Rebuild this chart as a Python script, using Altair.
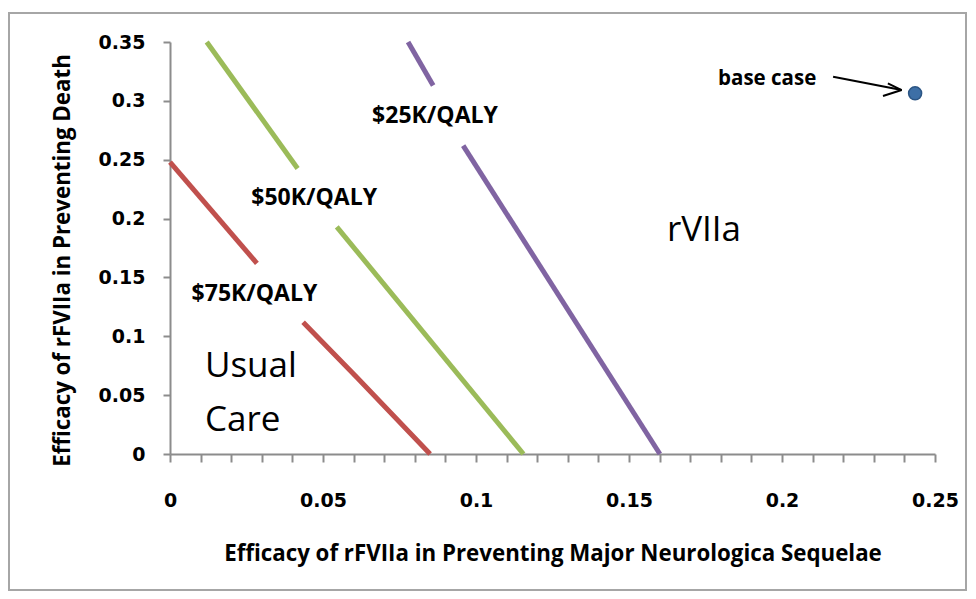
import altair as alt
import pandas as pd

# ---- threshold lines (two visible segments each; gap where the label sits) ----
red_seg1_x = [0.0, 0.0284]
red_seg1_y = [0.248, 0.162]
red_seg2_x = [0.0435, 0.0611, 0.085]
red_seg2_y = [0.112, 0.065, 0.0]
green_seg1_x = [0.012, 0.0417]
green_seg1_y = [0.35, 0.2425]
green_seg2_x = [0.0545, 0.1155]
green_seg2_y = [0.193, 0.0]
purple_seg1_x = [0.0778, 0.0860]
purple_seg1_y = [0.35, 0.313]
purple_seg2_x = [0.0958, 0.1601]
purple_seg2_y = [0.262, 0.0]

series_names = ["$75K/QALY", "$50K/QALY", "$25K/QALY"]
series_colors = ["#C0504D", "#9BBB59", "#8064A2"]

# line labels
label_text = ["$75K/QALY", "$50K/QALY", "$25K/QALY"]
label_x = [0.0276, 0.0471, 0.0866]
label_y = [0.1356, 0.2173, 0.287]

# region labels
region_text = ["Usual", "Care", "rVIIa"]
region_x = [0.0114, 0.0114, 0.1745]
region_y = [0.0652, 0.0198, 0.1806]
region_align = ["left", "left", "center"]

# base case
base_x = [0.2435]
base_y = [0.3064]
base_label = ["base case"]
base_label_x = [0.1791]
base_label_y = [0.3134]
arrow_x = [0.2167, 0.2391, 0.2391]
arrow_y = [0.3205, 0.3092, 0.3092]
arrow_x2 = [0.2391, 0.2330, 0.2346]
arrow_y2 = [0.3092, 0.3041, 0.3149]

x_ticks = [0.00, 0.01, 0.02, 0.03, 0.04, 0.05, 0.06, 0.07, 0.08, 0.09,
           0.10, 0.11, 0.12, 0.13, 0.14, 0.15, 0.16, 0.17, 0.18, 0.19,
           0.20, 0.21, 0.22, 0.23, 0.24, 0.25]
y_ticks = [0.0, 0.05, 0.1, 0.15, 0.2, 0.25, 0.3, 0.35]

# ---- build tables ----
rows = []
segs = [
    ("$75K/QALY", "r1", red_seg1_x, red_seg1_y),
    ("$75K/QALY", "r2", red_seg2_x, red_seg2_y),
    ("$50K/QALY", "g1", green_seg1_x, green_seg1_y),
    ("$50K/QALY", "g2", green_seg2_x, green_seg2_y),
    ("$25K/QALY", "p1", purple_seg1_x, purple_seg1_y),
    ("$25K/QALY", "p2", purple_seg2_x, purple_seg2_y),
]
for s, seg, xs, ys in segs:
    for i, (a, b) in enumerate(zip(xs, ys)):
        rows.append({"x": a, "y": b, "series": s, "seg": seg, "ord": i})
lines_df = pd.DataFrame(rows)

labels_df = pd.DataFrame({"x": label_x, "y": label_y, "text": label_text})
region_df = pd.DataFrame({"x": region_x, "y": region_y, "text": region_text, "align": region_align})
base_df = pd.DataFrame({"x": base_x, "y": base_y})
base_lab_df = pd.DataFrame({"x": base_label_x, "y": base_label_y, "text": base_label})
arrow_df = pd.DataFrame({"x": arrow_x, "y": arrow_y, "x2": arrow_x2, "y2": arrow_y2})

W, H = 765, 412

x_enc = alt.X(
    "x:Q",
    scale=alt.Scale(domain=[0, 0.25], nice=False, zero=False),
    axis=alt.Axis(
        title="Efficacy of rFVIIa in Preventing Major Neurologica Sequelae",
        values=x_ticks,
        tickCount=40,
        labelExpr="round(datum.value*100) % 5 == 0 ? format(datum.value, '.2~f') : ''",
        tickSize=8,
        labelPadding=44,
        labelBaseline="alphabetic",
        labelFlush=False,
        labelOverlap=False,
        titleY=106,
        titleBaseline="alphabetic",
    ),
)
y_enc = alt.Y(
    "y:Q",
    scale=alt.Scale(domain=[0, 0.35], nice=False, zero=False),
    axis=alt.Axis(
        title="Efficacy of rFVIIa in Preventing Death",
        values=y_ticks,
        tickCount=20,
        format=".2~f",
        tickSize=7,
        labelPadding=18,
        titleAngle=-90,
        titleX=-108,
        titleY=218,
        titleAlign="center",
        titleBaseline="middle",
    ),
)

border = alt.Chart(pd.DataFrame({"a": [0]})).mark_rect(
    fillOpacity=0, stroke="#a6a6a6", strokeWidth=2
).encode(
    x=alt.value(-161), x2=alt.value(796), y=alt.value(-29), y2=alt.value(548)
)

lines = alt.Chart(lines_df).mark_line(strokeWidth=5, strokeCap="butt").encode(
    x=x_enc,
    y=y_enc,
    color=alt.Color("series:N", scale=alt.Scale(domain=series_names, range=series_colors), legend=None),
    detail="seg:N",
    order="ord:Q",
)

line_labels = alt.Chart(labels_df).mark_text(
    font="Open Sans", fontWeight="bold", fontSize=23, color="black", align="center", baseline="middle"
).encode(x="x:Q", y="y:Q", text="text:N")

regions_left = alt.Chart(region_df[region_df["align"] == "left"]).mark_text(
    font="Open Sans", fontSize=35, color="black", align="left", baseline="alphabetic"
).encode(x="x:Q", y="y:Q", text="text:N")

regions_center = alt.Chart(region_df[region_df["align"] == "center"]).mark_text(
    font="Open Sans", fontSize=35, color="black", align="center", baseline="alphabetic"
).encode(x="x:Q", y="y:Q", text="text:N")

arrow = alt.Chart(arrow_df).mark_rule(color="black", strokeWidth=2).encode(
    x="x:Q", y="y:Q", x2="x2:Q", y2="y2:Q"
)

base_pt = alt.Chart(base_df).mark_circle(
    size=170, color="#3D6FA6", stroke="#2B5584", strokeWidth=1.5, opacity=1
).encode(x="x:Q", y="y:Q")

base_text = alt.Chart(base_lab_df).mark_text(
    font="Open Sans", fontWeight="bold", fontSize=20.5, color="black", align="left", baseline="alphabetic"
).encode(x="x:Q", y="y:Q", text="text:N")

chart = alt.layer(
    border, lines, line_labels, regions_left, regions_center, arrow, base_pt, base_text
).properties(
    width=W,
    height=H,
    autosize=alt.AutoSizeParams(type="none"),
    padding={"left": 162, "top": 34, "right": 33, "bottom": 137},
    background="white",
).configure_view(
    strokeWidth=0
).configure_axis(
    grid=False,
    domainColor="#8c8c8c",
    domainWidth=2,
    tickColor="#8c8c8c",
    tickWidth=2,
    labelFont="DejaVu Sans",
    labelFontWeight="bold",
    labelFontSize=19,
    labelColor="black",
    titleFont="Open Sans",
    titleFontWeight="bold",
    titleFontSize=22.3,
    titleColor="black",
)

chart.save("out.html", embed_options={"renderer": "svg", "actions": False})
